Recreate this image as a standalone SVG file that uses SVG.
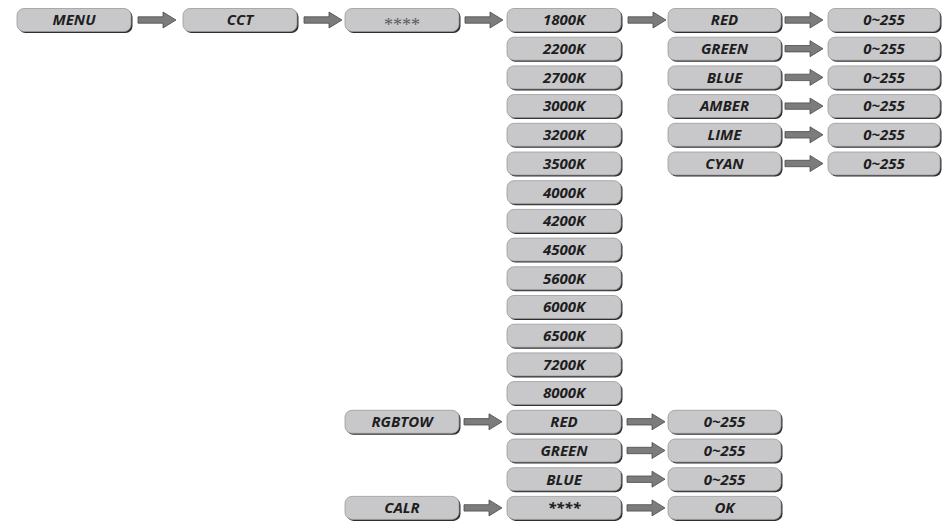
<svg xmlns="http://www.w3.org/2000/svg" xmlns:xlink="http://www.w3.org/1999/xlink" width="943" height="521" viewBox="0 0 943 521">
<style>
.sh{fill:#2e2e2e}
.bx{fill:#c8c8ca;stroke:#9a9a9a;stroke-width:0.8}
.node text{font-family:"Open Sans","DejaVu Sans",sans-serif;font-weight:700;font-style:italic;font-size:15px;fill:#1e1e1e;text-anchor:middle}
.node text.ast{font-family:"Liberation Serif",serif;font-weight:400;font-style:normal;font-size:18px;fill:#5a5a5a}
.arr{fill:#7c7c7c;stroke:#4a4a4a;stroke-width:0.8}
</style>
<defs>
<path id="arrow" class="arr" d="M0,-3.2 H25 V-8 L38,0 L25,8 V3.2 H0 Z"/>
<g id="nb114"><rect class="sh" x="1.5" y="-10" width="114" height="23" rx="7"/><rect class="bx" x="0" y="-11.5" width="114" height="23" rx="7"/></g>
<g id="nb113"><rect class="sh" x="1.5" y="-10" width="113" height="23" rx="7"/><rect class="bx" x="0" y="-11.5" width="113" height="23" rx="7"/></g>
<g id="nb112"><rect class="sh" x="1.5" y="-10" width="112" height="23" rx="7"/><rect class="bx" x="0" y="-11.5" width="112" height="23" rx="7"/></g>
</defs>
<rect width="943" height="521" fill="#ffffff"/>
<g id="connectors">
<use xlink:href="#arrow" href="#arrow" x="138" y="20"/>
<use xlink:href="#arrow" href="#arrow" x="304" y="20"/>
<use xlink:href="#arrow" href="#arrow" x="465" y="20"/>
<use xlink:href="#arrow" href="#arrow" x="628" y="20"/>
<use xlink:href="#arrow" href="#arrow" x="785" y="20"/>
<use xlink:href="#arrow" href="#arrow" x="785" y="48.7"/>
<use xlink:href="#arrow" href="#arrow" x="785" y="77.4"/>
<use xlink:href="#arrow" href="#arrow" x="785" y="106.1"/>
<use xlink:href="#arrow" href="#arrow" x="785" y="134.8"/>
<use xlink:href="#arrow" href="#arrow" x="785" y="163.5"/>
<use xlink:href="#arrow" href="#arrow" x="464" y="421.8"/>
<use xlink:href="#arrow" href="#arrow" x="627" y="421.8"/>
<use xlink:href="#arrow" href="#arrow" x="627" y="450.5"/>
<use xlink:href="#arrow" href="#arrow" x="627" y="479.2"/>
<use xlink:href="#arrow" href="#arrow" x="464" y="507.9"/>
<use xlink:href="#arrow" href="#arrow" x="627" y="507.9"/>
</g>
<g id="n-menu" class="node" transform="translate(17,20)"><use xlink:href="#nb114" href="#nb114"/><text x="57" y="5.3">MENU</text></g>
<g id="n-cct" class="node" transform="translate(183,20)"><use xlink:href="#nb114" href="#nb114"/><text x="57" y="5.3">CCT</text></g>
<g id="n-code" class="node" transform="translate(345,20)"><use xlink:href="#nb114" href="#nb114"/><text class="ast" x="57" y="10.5">****</text></g>
<g id="n-rgbtow" class="node" transform="translate(345,421.8)"><use xlink:href="#nb114" href="#nb114"/><text x="57" y="5.3">RGBTOW</text></g>
<g id="n-calr" class="node" transform="translate(345,507.9)"><use xlink:href="#nb114" href="#nb114"/><text x="57" y="5.3">CALR</text></g>
<g id="n-1800k" class="node" transform="translate(507,20)"><use xlink:href="#nb114" href="#nb114"/><text x="57" y="5.3">1800K</text></g>
<g id="n-2200k" class="node" transform="translate(507,48.7)"><use xlink:href="#nb114" href="#nb114"/><text x="57" y="5.3">2200K</text></g>
<g id="n-2700k" class="node" transform="translate(507,77.4)"><use xlink:href="#nb114" href="#nb114"/><text x="57" y="5.3">2700K</text></g>
<g id="n-3000k" class="node" transform="translate(507,106.1)"><use xlink:href="#nb114" href="#nb114"/><text x="57" y="5.3">3000K</text></g>
<g id="n-3200k" class="node" transform="translate(507,134.8)"><use xlink:href="#nb114" href="#nb114"/><text x="57" y="5.3">3200K</text></g>
<g id="n-3500k" class="node" transform="translate(507,163.5)"><use xlink:href="#nb114" href="#nb114"/><text x="57" y="5.3">3500K</text></g>
<g id="n-4000k" class="node" transform="translate(507,192.2)"><use xlink:href="#nb114" href="#nb114"/><text x="57" y="5.3">4000K</text></g>
<g id="n-4200k" class="node" transform="translate(507,220.9)"><use xlink:href="#nb114" href="#nb114"/><text x="57" y="5.3">4200K</text></g>
<g id="n-4500k" class="node" transform="translate(507,249.6)"><use xlink:href="#nb114" href="#nb114"/><text x="57" y="5.3">4500K</text></g>
<g id="n-5600k" class="node" transform="translate(507,278.3)"><use xlink:href="#nb114" href="#nb114"/><text x="57" y="5.3">5600K</text></g>
<g id="n-6000k" class="node" transform="translate(507,307)"><use xlink:href="#nb114" href="#nb114"/><text x="57" y="5.3">6000K</text></g>
<g id="n-6500k" class="node" transform="translate(507,335.7)"><use xlink:href="#nb114" href="#nb114"/><text x="57" y="5.3">6500K</text></g>
<g id="n-7200k" class="node" transform="translate(507,364.4)"><use xlink:href="#nb114" href="#nb114"/><text x="57" y="5.3">7200K</text></g>
<g id="n-8000k" class="node" transform="translate(507,393.1)"><use xlink:href="#nb114" href="#nb114"/><text x="57" y="5.3">8000K</text></g>
<g id="n-rgb-red" class="node" transform="translate(507,421.8)"><use xlink:href="#nb114" href="#nb114"/><text x="57" y="5.3">RED</text></g>
<g id="n-rgb-green" class="node" transform="translate(507,450.5)"><use xlink:href="#nb114" href="#nb114"/><text x="57" y="5.3">GREEN</text></g>
<g id="n-rgb-blue" class="node" transform="translate(507,479.2)"><use xlink:href="#nb114" href="#nb114"/><text x="57" y="5.3">BLUE</text></g>
<g id="n-calr-code" class="node" transform="translate(507,507.9)"><use xlink:href="#nb114" href="#nb114"/><text x="57" y="5.3">****</text></g>
<g id="n-red" class="node" transform="translate(668,20)"><use xlink:href="#nb113" href="#nb113"/><text x="56.5" y="5.3">RED</text></g>
<g id="n-green" class="node" transform="translate(668,48.7)"><use xlink:href="#nb113" href="#nb113"/><text x="56.5" y="5.3">GREEN</text></g>
<g id="n-blue" class="node" transform="translate(668,77.4)"><use xlink:href="#nb113" href="#nb113"/><text x="56.5" y="5.3">BLUE</text></g>
<g id="n-amber" class="node" transform="translate(668,106.1)"><use xlink:href="#nb113" href="#nb113"/><text x="56.5" y="5.3">AMBER</text></g>
<g id="n-lime" class="node" transform="translate(668,134.8)"><use xlink:href="#nb113" href="#nb113"/><text x="56.5" y="5.3">LIME</text></g>
<g id="n-cyan" class="node" transform="translate(668,163.5)"><use xlink:href="#nb113" href="#nb113"/><text x="56.5" y="5.3">CYAN</text></g>
<g id="n-red-val" class="node" transform="translate(828,20)"><use xlink:href="#nb112" href="#nb112"/><text x="56" y="5.3">0~255</text></g>
<g id="n-green-val" class="node" transform="translate(828,48.7)"><use xlink:href="#nb112" href="#nb112"/><text x="56" y="5.3">0~255</text></g>
<g id="n-blue-val" class="node" transform="translate(828,77.4)"><use xlink:href="#nb112" href="#nb112"/><text x="56" y="5.3">0~255</text></g>
<g id="n-amber-val" class="node" transform="translate(828,106.1)"><use xlink:href="#nb112" href="#nb112"/><text x="56" y="5.3">0~255</text></g>
<g id="n-lime-val" class="node" transform="translate(828,134.8)"><use xlink:href="#nb112" href="#nb112"/><text x="56" y="5.3">0~255</text></g>
<g id="n-cyan-val" class="node" transform="translate(828,163.5)"><use xlink:href="#nb112" href="#nb112"/><text x="56" y="5.3">0~255</text></g>
<g id="n-rgb-red-val" class="node" transform="translate(668,421.8)"><use xlink:href="#nb113" href="#nb113"/><text x="56.5" y="5.3">0~255</text></g>
<g id="n-rgb-green-val" class="node" transform="translate(668,450.5)"><use xlink:href="#nb113" href="#nb113"/><text x="56.5" y="5.3">0~255</text></g>
<g id="n-rgb-blue-val" class="node" transform="translate(668,479.2)"><use xlink:href="#nb113" href="#nb113"/><text x="56.5" y="5.3">0~255</text></g>
<g id="n-ok" class="node" transform="translate(668,507.9)"><use xlink:href="#nb113" href="#nb113"/><text x="56.5" y="5.3">OK</text></g>
</svg>
